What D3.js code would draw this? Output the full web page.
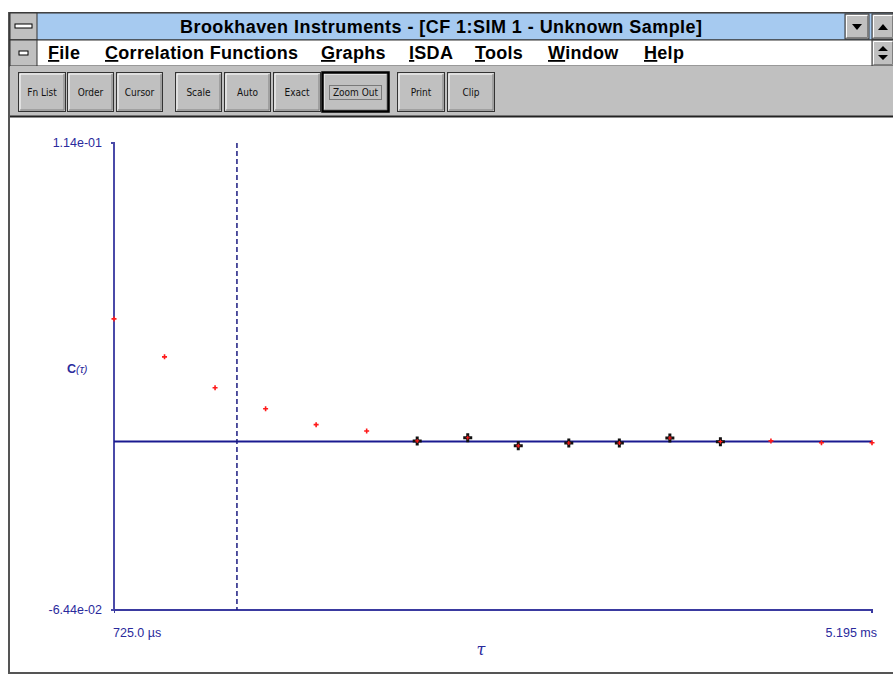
<!DOCTYPE html>
<html>
<head>
<meta charset="utf-8">
<script src="https://cdn.jsdelivr.net/npm/d3@7"></script>
<style>
  html, body { margin: 0; padding: 0; background: #fff; }
  svg { display: block; }
</style>
</head>
<body>
<svg id="chart" width="893" height="675"></svg>
<script>
// data
const tauUs = [725, 1023, 1321, 1619, 1917, 2215, 2513, 2811, 3109, 3407, 3705, 4003, 4301, 4599, 4897, 5195];
const corr = [0.0468, 0.0323, 0.0205, 0.0125, 0.0064, 0.0040, 0.0002, 0.0014, -0.0017, -0.0006, -0.0006, 0.0013, -0.0001, 0.0002, -0.0005, -0.0005];
const inFit = [false, false, false, false, false, false, true, true, true, true, true, true, true, false, false, false];
const cursorUs = 1450;
const yTop = 0.114, yBottom = -0.0644;
const yLabels = ['1.14e-01', '-6.44e-02'];
const xLabels = ['725.0 \u00b5s', '5.195 ms'];

const menuItems = ['File', 'Correlation Functions', 'Graphs', 'ISDA', 'Tools', 'Window', 'Help'];
const menuX = [48, 105, 321, 409, 475, 548, 644];
const buttons = ['Fn List', 'Order', 'Cursor', 'Scale', 'Auto', 'Exact', 'Zoom Out', 'Print', 'Clip'];
const buttonX = [18, 67, 116, 175, 224, 273, 322, 397, 447];
const buttonW = [47, 46, 46, 46, 46, 47, 66, 47, 47];

const svg = d3.select('#chart');
const navy = '#2a2a9c';

// ---- window frame ----
svg.append('rect').attr('x', 9).attr('y', 13).attr('width', 900).attr('height', 660)
  .attr('fill', '#fff').attr('stroke', '#555').attr('stroke-width', 2);

// title bar
svg.append('rect').attr('x', 10).attr('y', 13).attr('width', 883).attr('height', 27)
  .attr('fill', '#a6caf0').attr('stroke', '#333').attr('stroke-width', 1);
svg.append('rect').attr('x', 10).attr('y', 13).attr('width', 27).attr('height', 27)
  .attr('fill', '#c0c0c0').attr('stroke', '#333');
svg.append('rect').attr('x', 15).attr('y', 24).attr('width', 17).attr('height', 4)
  .attr('fill', '#fff').attr('stroke', '#000');
svg.append('text').attr('x', 180).attr('y', 33)
  .attr('font-family', 'Liberation Sans, Arial, sans-serif').attr('font-weight', 'bold')
  .attr('font-size', 18).attr('fill', '#000')
  .attr('textLength', 522).attr('lengthAdjust', 'spacing')
  .text('Brookhaven Instruments - [CF 1:SIM 1 - Unknown Sample]');

function bevel(x, y, w, h) {
  svg.append('rect').attr('x', x).attr('y', y).attr('width', w).attr('height', h)
    .attr('fill', '#c0c0c0').attr('stroke', '#333');
  svg.append('path').attr('d', `M${x + 1.5},${y + h - 1}V${y + 1.5}H${x + w - 1}`)
    .attr('fill', 'none').attr('stroke', '#fff');
  svg.append('path').attr('d', `M${x + 1.5},${y + h - 1.5}H${x + w - 1.5}V${y + 1.5}`)
    .attr('fill', 'none').attr('stroke', '#808080');
}
bevel(845, 14, 24, 25);
svg.append('path').attr('d', 'M852,24h10l-5,6z').attr('fill', '#000');
bevel(872, 14, 22, 25);
svg.append('path').attr('d', 'M878,30h10l-5,-6z').attr('fill', '#000');

// menu bar
svg.append('rect').attr('x', 10).attr('y', 40).attr('width', 883).attr('height', 26)
  .attr('fill', '#fff').attr('stroke', '#333');
svg.append('rect').attr('x', 10).attr('y', 40).attr('width', 27).attr('height', 26)
  .attr('fill', '#c0c0c0').attr('stroke', '#333');
svg.append('rect').attr('x', 19).attr('y', 51).attr('width', 9).attr('height', 4)
  .attr('fill', '#fff').attr('stroke', '#000');
bevel(872, 40, 22, 26);
svg.append('path').attr('d', 'M878,51h10l-5,-5z M878,55h10l-5,5z').attr('fill', '#000');

const menu = svg.append('g').attr('font-family', 'Liberation Sans, Arial, sans-serif')
  .attr('font-weight', 'bold').attr('font-size', 18).attr('letter-spacing', 0.3).attr('fill', '#000');
menuItems.forEach((m, i) => {
  const t = menu.append('text').attr('x', menuX[i]).attr('y', 59);
  t.append('tspan').attr('text-decoration', 'underline').text(m[0]);
  t.append('tspan').text(m.slice(1));
});

// toolbar
svg.append('rect').attr('x', 10).attr('y', 66).attr('width', 883).attr('height', 51)
  .attr('fill', '#c0c0c0');
svg.append('line').attr('x1', 10).attr('x2', 893).attr('y1', 116.5).attr('y2', 116.5)
  .attr('stroke', '#222').attr('stroke-width', 2);
buttons.forEach((b, i) => {
  const x = buttonX[i], w = buttonW[i];
  bevel(x + 0.5, 72.5, w, 39);
  if (b === 'Zoom Out') {
    svg.append('rect').attr('x', x + 0.5).attr('y', 72.5).attr('width', w).attr('height', 39)
      .attr('fill', 'none').attr('stroke', '#000').attr('stroke-width', 2.5);
    svg.append('rect').attr('x', x + 7.5).attr('y', 85.5).attr('width', w - 14).attr('height', 14)
      .attr('fill', 'none').attr('stroke', '#333').attr('stroke-dasharray', '1,1');
  }
  svg.append('text').attr('x', x + w / 2 + 0.5).attr('y', 96).attr('text-anchor', 'middle')
    .attr('font-family', 'DejaVu Sans Condensed, DejaVu Sans, sans-serif').attr('font-size', 10)
    .attr('fill', '#111')
    .text(b);
});

// ---- plot ----
const x = d3.scaleLinear().domain([tauUs[0], tauUs[tauUs.length - 1]]).range([114, 872]);
const y = d3.scaleLinear().domain([yBottom, yTop]).range([610, 143]);

const plot = svg.append('g');

// axes
const yAxis = plot.append('g').attr('transform', `translate(${x(tauUs[0])},0)`)
  .call(d3.axisLeft(y).tickValues([yTop, yBottom]).tickSize(3).tickFormat(''));
yAxis.select('.domain').attr('stroke', '#4a4aa8').attr('stroke-width', 2)
  .attr('d', `M-3,${y(yTop)}H0V${y(yBottom)}H-3`);
yAxis.selectAll('.tick line').attr('stroke', '#4a4aa8');

const xAxis = plot.append('g').attr('transform', `translate(0,${y(yBottom)})`)
  .call(d3.axisBottom(x).tickValues([tauUs[0], tauUs[tauUs.length - 1]]).tickSize(3).tickFormat(''));
xAxis.select('.domain').attr('stroke', '#3a3aa0').attr('stroke-width', 2)
  .attr('d', `M${x(tauUs[0])},0H${x(tauUs[tauUs.length - 1])}V3`);
xAxis.selectAll('.tick line').attr('stroke', '#3a3aa0');

// zero line
plot.append('line').attr('x1', x(tauUs[0])).attr('x2', x(tauUs[tauUs.length - 1]))
  .attr('y1', y(0)).attr('y2', y(0)).attr('stroke', '#1a1a90').attr('stroke-width', 2);

// cursor
plot.append('line').attr('x1', x(cursorUs)).attr('x2', x(cursorUs))
  .attr('y1', y(yTop)).attr('y2', y(yBottom))
  .attr('stroke', '#1a1a80').attr('stroke-width', 1.5).attr('stroke-dasharray', '5,3');

// labels
const lab = plot.append('g').attr('font-family', 'Liberation Sans, Arial, sans-serif')
  .attr('font-size', 12.5).attr('fill', navy);
lab.append('text').attr('x', 102).attr('y', y(yTop) + 4).attr('text-anchor', 'end').text(yLabels[0]);
lab.append('text').attr('x', 102).attr('y', y(yBottom) + 4).attr('text-anchor', 'end').text(yLabels[1]);
lab.append('text').attr('x', 113).attr('y', 637).text(xLabels[0]);
lab.append('text').attr('x', 877).attr('y', 637).attr('text-anchor', 'end').text(xLabels[1]);
const cl = lab.append('text').attr('x', 67).attr('y', 373).attr('font-weight', 'bold');
cl.append('tspan').text('C');
cl.append('tspan').attr('font-size', 11).attr('font-style', 'italic').attr('font-weight', 'normal').text('(\u03c4)');
lab.append('text').attr('x', 481).attr('y', 655).attr('text-anchor', 'middle')
  .attr('font-size', 16).attr('font-style', 'italic').attr('font-family', 'DejaVu Serif, serif').text('\u03c4');

// points
const pts = plot.selectAll('.pt').data(tauUs.map((t, i) => ({ t, c: corr[i], fit: inFit[i] })))
  .enter().append('g').attr('class', 'pt')
  .attr('transform', d => `translate(${x(d.t)},${y(d.c)})`);
pts.filter(d => d.fit).append('path')
  .attr('d', 'M-1.5,-4.5H1.5V-1.5H4.5V1.5H1.5V4.5H-1.5V1.5H-4.5V-1.5H-1.5Z')
  .attr('fill', '#111');
pts.append('path').attr('d', d => d.fit ? 'M-2,0H2M0,-2V2' : 'M-2.5,0H2.5M0,-2.5V2.5')
  .attr('stroke', '#ff1a1a').attr('stroke-width', d => d.fit ? 1.2 : 1.6);
</script>
</body>
</html>
